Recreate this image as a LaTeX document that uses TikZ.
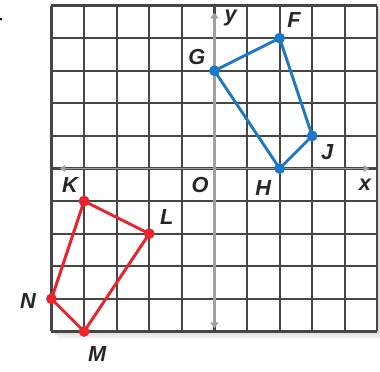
\documentclass[tikz,border=0pt]{standalone}
\usepackage{fontspec}
\setmainfont{Liberation Sans}
\usetikzlibrary{arrows.meta}
\definecolor{gridc}{RGB}{70,70,70}
\definecolor{axisc}{RGB}{160,160,160}
\definecolor{bluep}{RGB}{30,120,200}
\definecolor{redp}{RGB}{235,35,45}
\begin{document}
\begin{tikzpicture}[x=1cm,y=1cm,
  gridline/.style={draw=gridc,line width=1.9pt},
  xaxisline/.style={draw=axisc,line width=1.2pt,{Triangle[length=5pt,width=6pt]}-{Triangle[length=5pt,width=6pt]}},
  yaxisline/.style={draw=axisc,line width=2.6pt,{Triangle[length=5pt,width=7pt]}-{Triangle[length=5pt,width=7pt]}},
  bluepoly/.style={draw=bluep,line width=2.6pt,line join=round},
  redpoly/.style={draw=redp,line width=2.6pt,line join=round},
  vdot/.style={circle,inner sep=0pt,minimum size=9.5pt},
  lbl/.style={font=\fontsize{19}{21}\selectfont\bfseries\itshape,text=black!85,inner sep=0pt}]
\useasboundingbox (-6.58,-6.22) rectangle (5.08,5.17);
% shadow
\foreach \o/\c in {0.22/4,0.16/7,0.1/11,0.05/16}{
  \fill[black!\c] (-5+\o,-5-\o) rectangle (5+\o,5-\o);
}
\fill[white] (-5,-5) rectangle (5,5);
% stray mark
\fill[black] (-6.55,4.58) circle (0.045);
% grid
\foreach \i in {-5,...,5}{
  \draw[gridline] (\i,-5) -- (\i,5);
  \draw[gridline] (-5,\i) -- (5,\i);
}
% axes
\coordinate (yt) at (0,4.78);
\coordinate (yb) at (0,-4.9);
\coordinate (xl) at (-4.75,0);
\coordinate (xr) at (4.75,0);
\draw[xaxisline] (xl) -- (xr);
\draw[yaxisline] (yb) -- (yt);
% blue quadrilateral
\node[vdot,fill=bluep] (F) at (2,4) {};
\node[vdot,fill=bluep] (G) at (0,3) {};
\node[vdot,fill=bluep] (H) at (2,0) {};
\node[vdot,fill=bluep] (J) at (3,1) {};
\draw[bluepoly] (F.center) -- (J.center) -- (H.center) -- (G.center) -- cycle;
% red quadrilateral
\node[vdot,fill=redp] (K) at (-4,-1) {};
\node[vdot,fill=redp] (L) at (-2,-2) {};
\node[vdot,fill=redp] (M) at (-4,-5) {};
\node[vdot,fill=redp] (N) at (-5,-4) {};
\draw[redpoly] (K.center) -- (L.center) -- (M.center) -- (N.center) -- cycle;
% labels
\node[lbl] (lF) at (2.44,4.55) {F};
\node[lbl] (lG) at (-0.54,3.42) {G};
\node[lbl] (lJ) at (3.46,0.5) {J};
\node[lbl] (lH) at (1.5,-0.6) {H};
\node[lbl] (lO) at (-0.44,-0.52) {O};
\node[lbl] (lx) at (4.62,-0.5) {x};
\node[lbl] (ly) at (0.5,4.62) {y};
\node[lbl] (lK) at (-4.43,-0.52) {K};
\node[lbl] (lL) at (-1.46,-1.5) {L};
\node[lbl] (lN) at (-5.72,-4.08) {N};
\node[lbl] (lM) at (-3.6,-5.7) {M};
\end{tikzpicture}
\end{document}
